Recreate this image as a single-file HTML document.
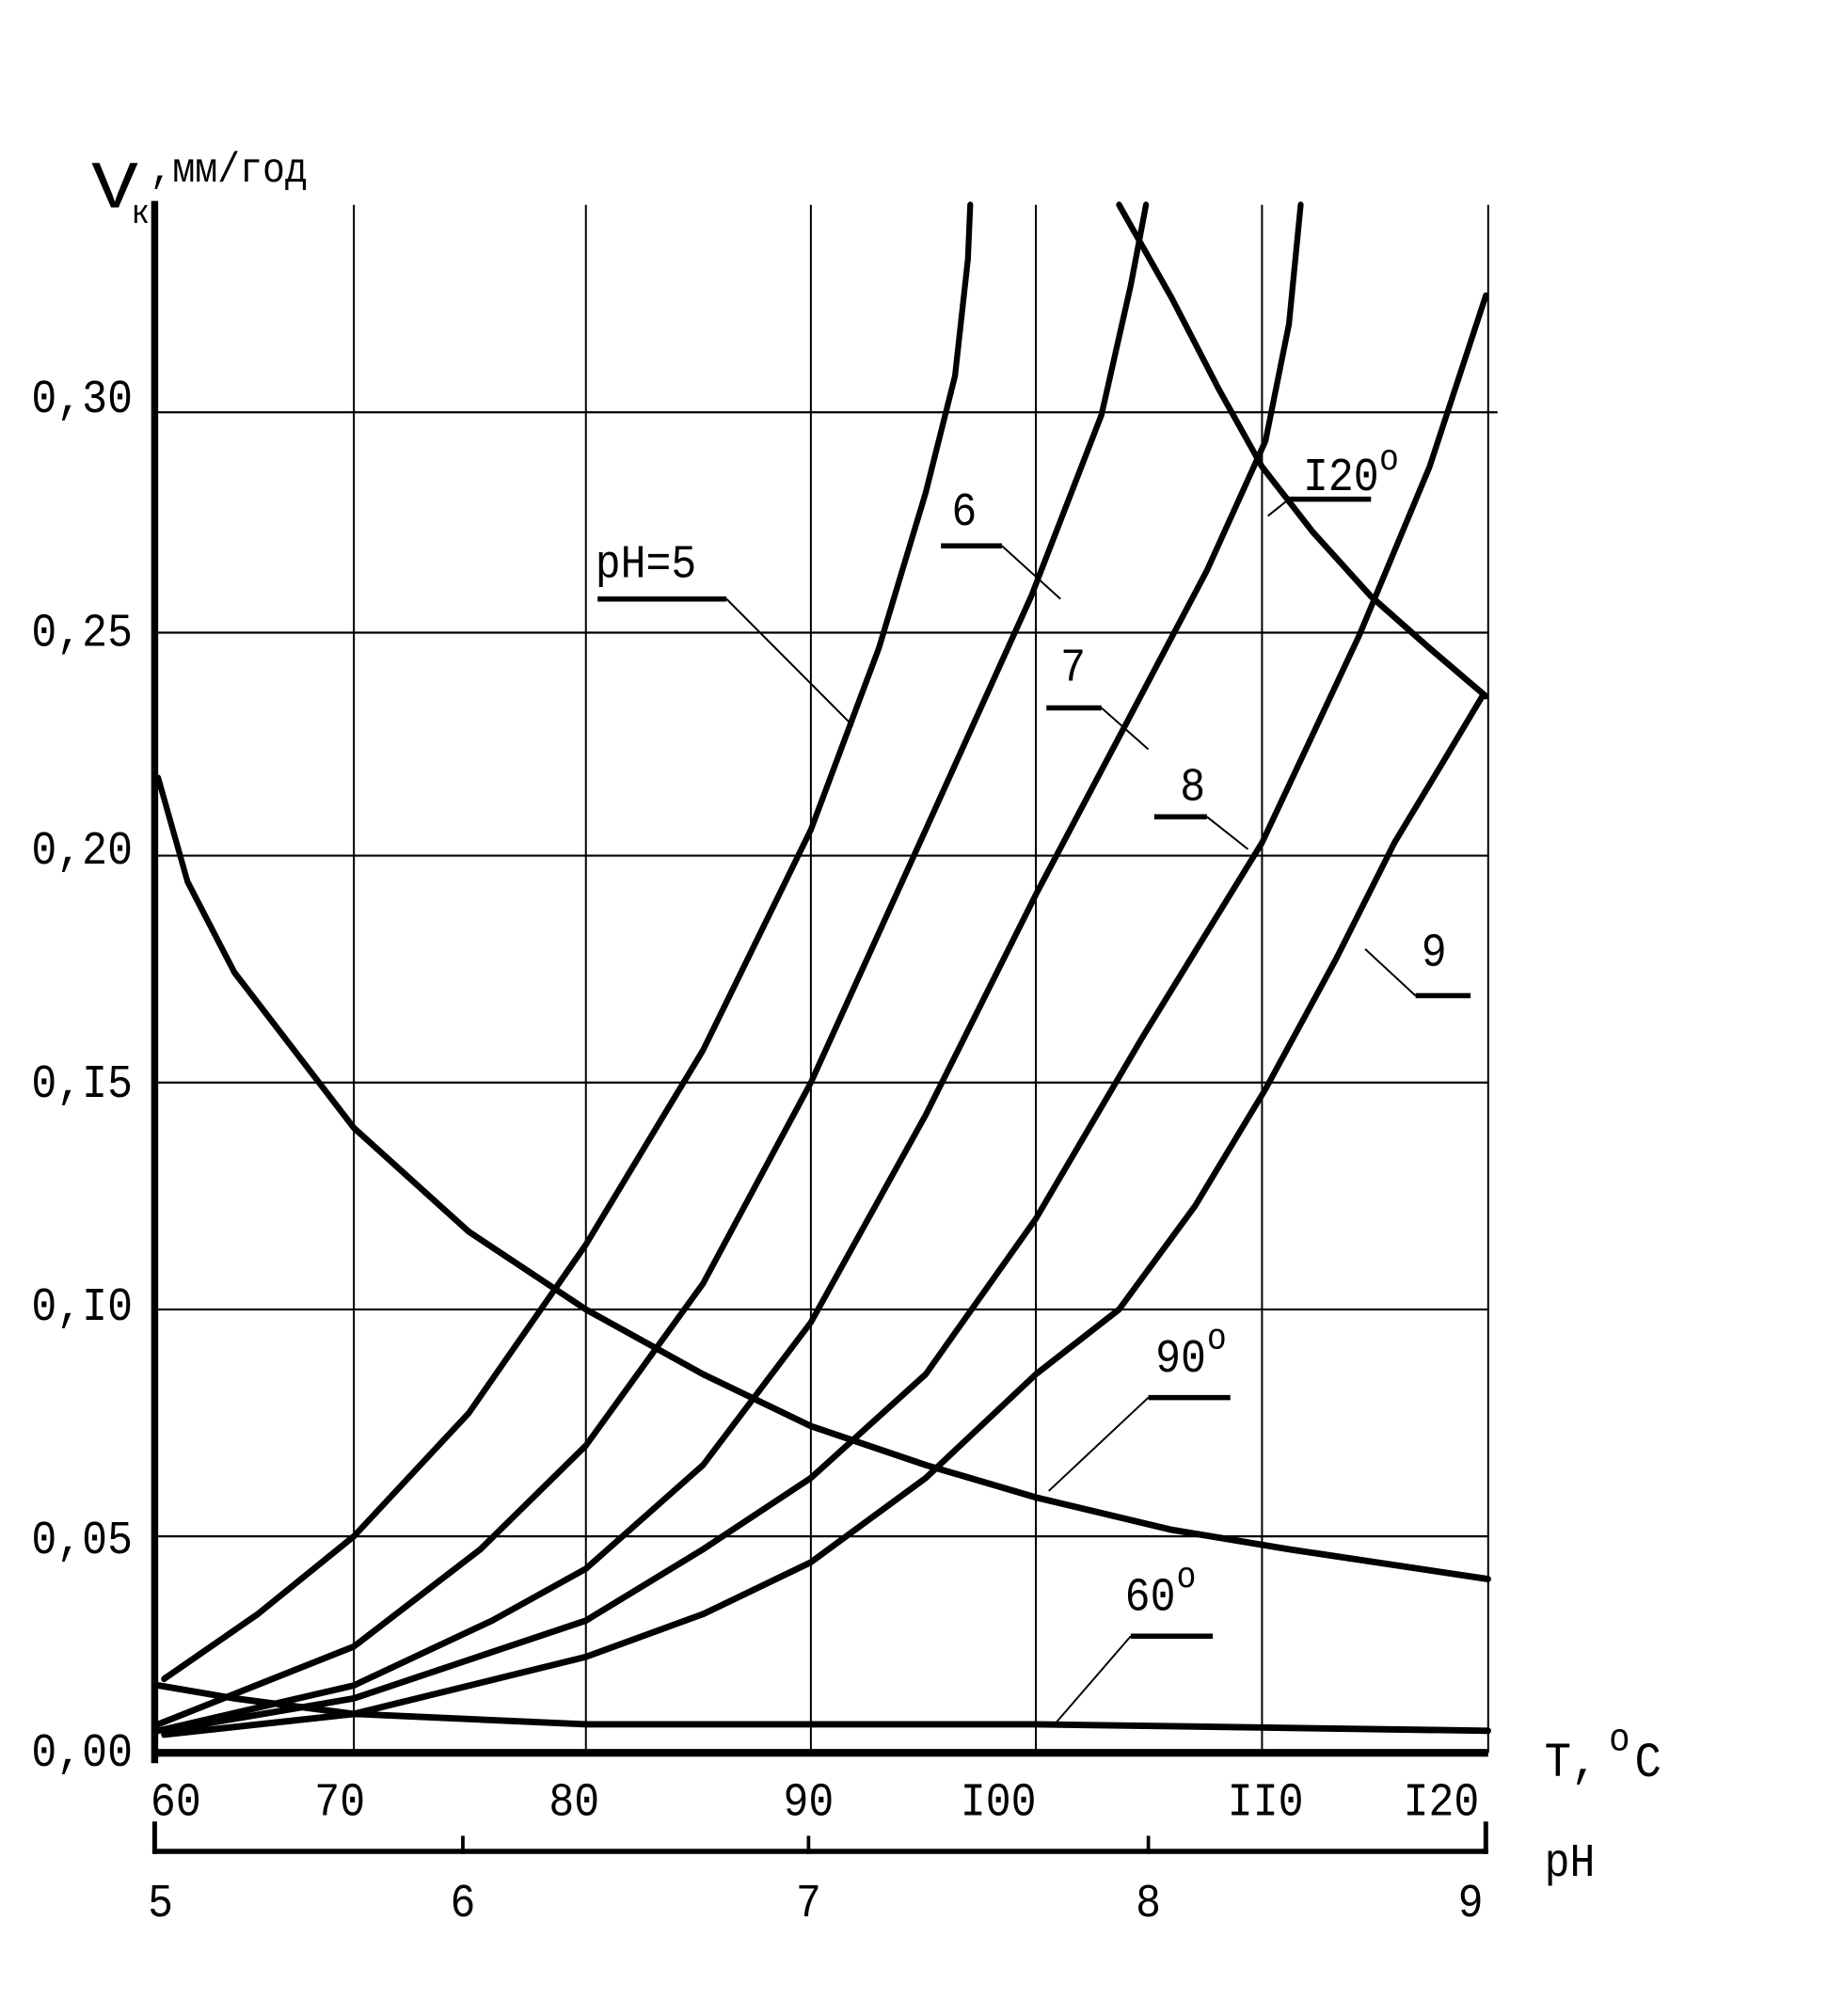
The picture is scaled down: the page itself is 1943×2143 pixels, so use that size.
<!DOCTYPE html>
<html><head><meta charset="utf-8"><style>
html,body{margin:0;padding:0;background:#fff;}
svg{display:block}
text{font-family:"Liberation Mono","DejaVu Sans Mono",monospace;fill:#000}
</style></head><body>
<svg width="1943" height="2143" viewBox="0 0 1560 1555" preserveAspectRatio="none" xmlns="http://www.w3.org/2000/svg">
<rect width="1560" height="1555" fill="#fff"/>
<g stroke="#000" stroke-width="1.6" fill="none">
<line x1="302" y1="158" x2="302" y2="1352"/>
<line x1="500" y1="158" x2="500" y2="1352"/>
<line x1="692" y1="158" x2="692" y2="1352"/>
<line x1="884" y1="158" x2="884" y2="1352"/>
<line x1="1077" y1="158" x2="1077" y2="1352"/>
<line x1="1270" y1="158" x2="1270" y2="1352"/>
<line x1="130" y1="318" x2="1278" y2="318"/>
<line x1="130" y1="488" x2="1270" y2="488"/>
<line x1="130" y1="660" x2="1270" y2="660"/>
<line x1="130" y1="835" x2="1270" y2="835"/>
<line x1="130" y1="1010" x2="1270" y2="1010"/>
<line x1="130" y1="1185" x2="1270" y2="1185"/>
</g>
<g stroke="#000" stroke-width="6" fill="none">
<line x1="132" y1="155" x2="132" y2="1360"/>
<line x1="130" y1="1352" x2="1270" y2="1352"/>
<line x1="130" y1="1428" x2="1270" y2="1428" stroke-width="4"/>
<line x1="132" y1="1405" x2="132" y2="1430" stroke-width="4"/>
<line x1="395" y1="1416" x2="395" y2="1430" stroke-width="3"/>
<line x1="690" y1="1416" x2="690" y2="1430" stroke-width="3"/>
<line x1="980" y1="1416" x2="980" y2="1430" stroke-width="3"/>
<line x1="1268" y1="1405" x2="1268" y2="1430" stroke-width="4"/>
</g>
<g stroke="#000" stroke-width="5" fill="none" stroke-linejoin="round" stroke-linecap="round">
<polyline points="140,1295 220,1245 302,1185 400,1090 500,960 600,810 692,640 750,500 790,380 815,290 826,200 828,158"/>
<polyline points="135,1330 302,1270 410,1195 500,1115 600,990 692,835 790,640 880,460 940,320 965,220 978,158"/>
<polyline points="135,1335 302,1300 420,1250 500,1210 600,1130 692,1020 790,860 884,690 960,560 1030,440 1080,340 1100,250 1110,158"/>
<polyline points="140,1335 302,1310 500,1250 600,1195 692,1140 790,1060 884,940 975,800 1077,650 1160,490 1220,360 1268,228"/>
<polyline points="140,1338 302,1322 500,1278 600,1245 692,1205 790,1140 884,1060 955,1010 1020,930 1080,840 1140,740 1190,650 1230,590 1265,537"/>
<polyline points="955,158 1000,230 1040,300 1077,360 1120,410 1170,460 1220,500 1268,537"/>
<polyline points="135,600 160,680 200,750 302,870 400,950 500,1010 600,1060 692,1100 790,1130 884,1155 1000,1180 1100,1195 1270,1218"/>
<polyline points="135,1300 200,1310 302,1322 500,1330 884,1330 1270,1335"/>
</g>
<g stroke="#000" stroke-width="4" fill="none">
<line x1="510" y1="462" x2="620" y2="462"/>
<line x1="803" y1="421" x2="855" y2="421"/>
<line x1="893" y1="546" x2="940" y2="546"/>
<line x1="985" y1="630" x2="1030" y2="630"/>
<line x1="1208" y1="768" x2="1255" y2="768"/>
<line x1="1100" y1="385" x2="1170" y2="385"/>
<line x1="980" y1="1078" x2="1050" y2="1078"/>
<line x1="965" y1="1262" x2="1035" y2="1262"/>
</g>
<g stroke="#000" stroke-width="1.5" fill="none">
<line x1="620" y1="462" x2="728" y2="560"/>
<line x1="855" y1="421" x2="905" y2="462"/>
<line x1="940" y1="546" x2="980" y2="578"/>
<line x1="1030" y1="630" x2="1065" y2="655"/>
<line x1="1208" y1="768" x2="1165" y2="732"/>
<line x1="1100" y1="385" x2="1082" y2="398"/>
<line x1="980" y1="1078" x2="895" y2="1150"/>
<line x1="965" y1="1262" x2="900" y2="1330"/>
</g>
<g font-size="36">
<text x="508" y="445">pH=5</text>
<text x="812" y="405">6</text>
<text x="905" y="525">7</text>
<text x="1007" y="617">8</text>
<text x="1213" y="745">9</text>
<text x="1112" y="378">I20</text><text x="1177" y="362" font-size="28">o</text>
<text x="986" y="1058">90</text><text x="1030" y="1040" font-size="28">o</text>
<text x="960" y="1242">60</text><text x="1004" y="1224" font-size="28">o</text>
</g>
<g font-size="36" text-anchor="middle">
<text x="70" y="318">0,30</text>
<text x="70" y="498">0,25</text>
<text x="70" y="666">0,20</text>
<text x="70" y="846">0,I5</text>
<text x="70" y="1018">0,I0</text>
<text x="70" y="1198">0,05</text>
<text x="70" y="1362">0,00</text>
<text x="150" y="1400">60</text>
<text x="290" y="1400">70</text>
<text x="490" y="1400">80</text>
<text x="690" y="1400">90</text>
<text x="852" y="1400">I00</text>
<text x="1080" y="1400">II0</text>
<text x="1230" y="1400">I20</text>
<text x="137" y="1478">5</text>
<text x="395" y="1478">6</text>
<text x="690" y="1478">7</text>
<text x="980" y="1478">8</text>
<text x="1255" y="1478">9</text>
</g>
<text x="1318" y="1370" font-size="38">T,</text>
<text x="1395" y="1370" font-size="38">C</text>
<text x="1373" y="1350" font-size="30">o</text>
<text x="1318" y="1447" font-size="36">pH</text>
<text x="78" y="160" font-size="52" textLength="40" lengthAdjust="spacingAndGlyphs">V</text>
<text x="112" y="172" font-size="26">к</text>
<text x="128" y="140" font-size="32">,мм/год</text>
</svg>
</body></html>
